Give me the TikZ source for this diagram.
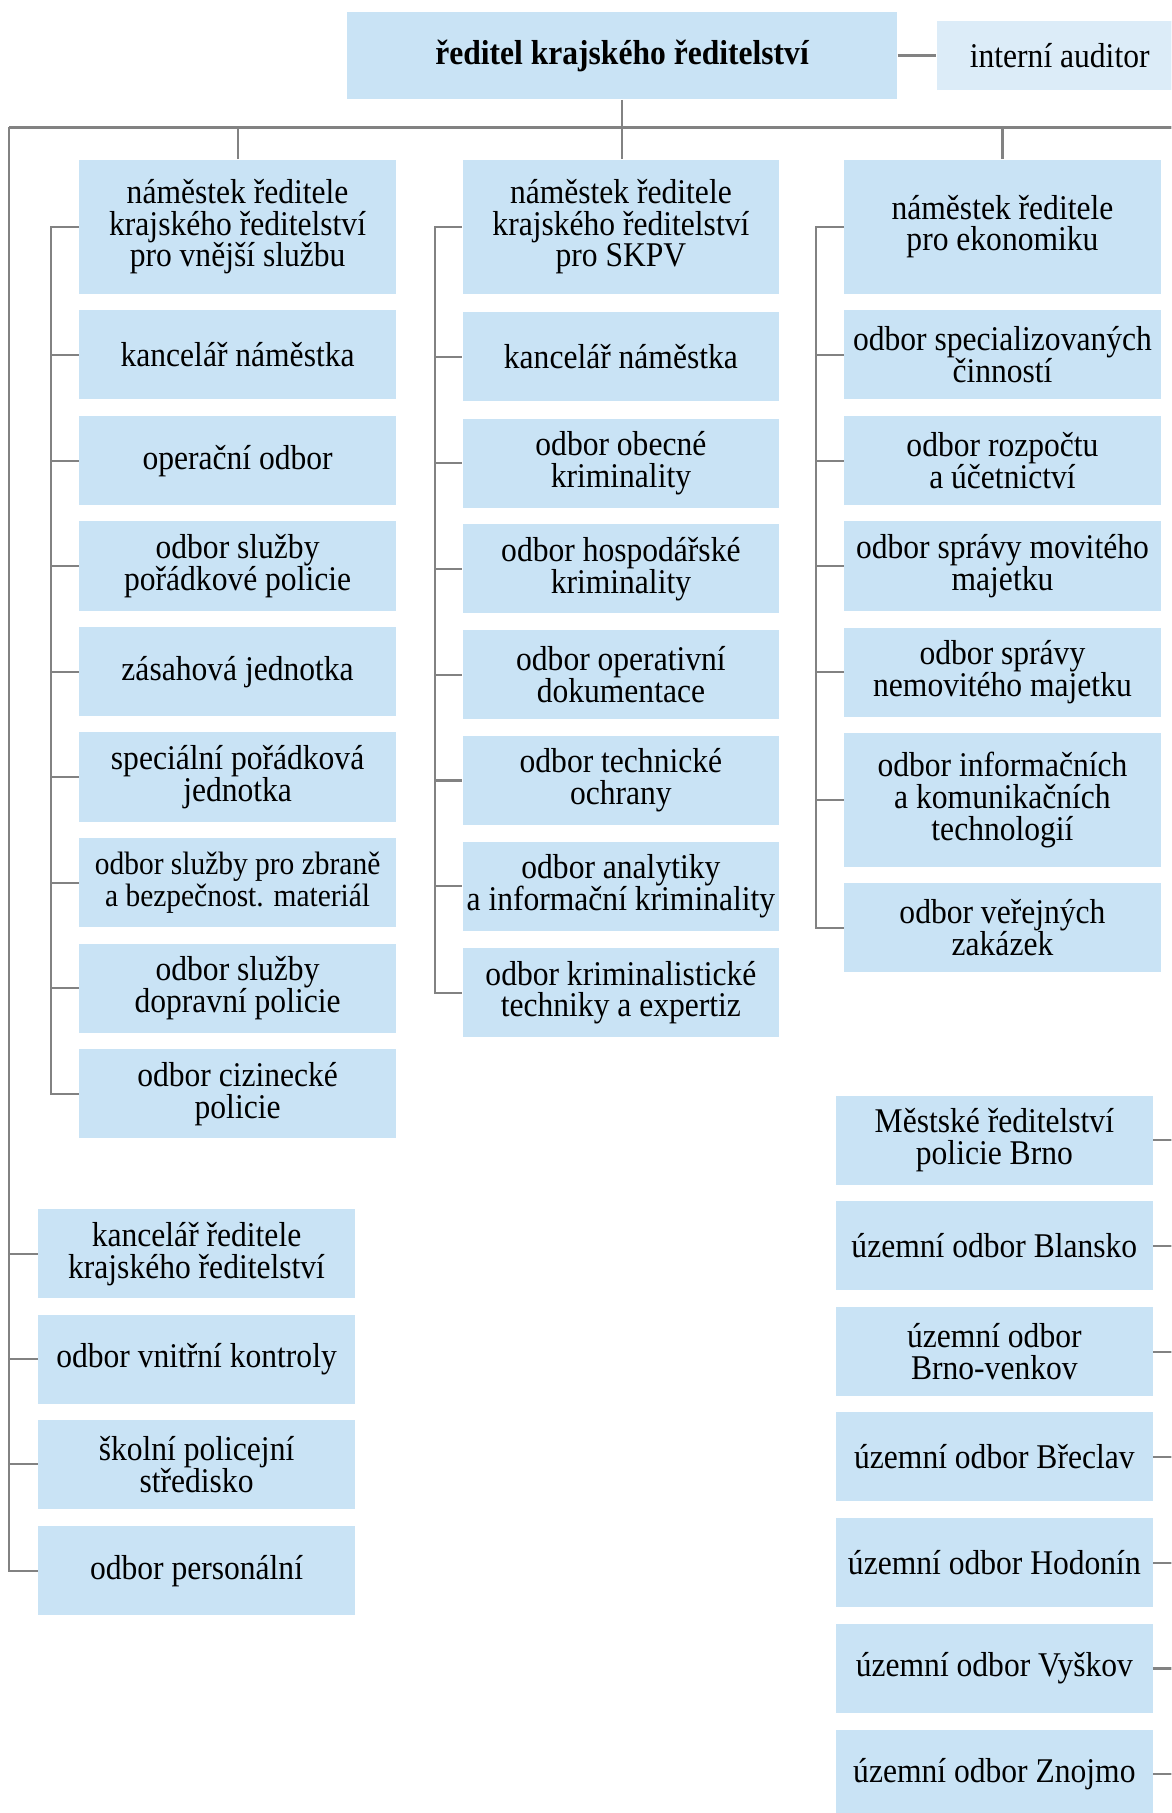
\documentclass[tikz,border=0pt]{standalone}
\usepackage{fontspec}
\setmainfont{Liberation Serif}[FakeStretch=0.91]
\usepackage{tikz}
\usepackage{xcolor}
\definecolor{boxblue}{RGB}{201,227,245}
\definecolor{boxpale}{RGB}{220,236,248}
\definecolor{linegray}{RGB}{130,130,130}

\begin{document}
\begin{tikzpicture}[x=0.5pt, y=-0.5pt,
  every node/.style={font=\fontsize{15}{13.8}\selectfont},
  unit/.style={fill=boxblue, inner sep=0pt, align=center, minimum width=137pt, minimum height=38.5pt},
  tall/.style={minimum height=58pt},
  link/.style={draw=linegray, line width=0.9pt},
  bus/.style={draw=linegray, line width=1.4pt}]
\useasboundingbox (0,0) rectangle (1013,1568);
\clip (0,0) rectangle (1013,1568);
% Top
\node[unit, minimum width=238pt, minimum height=38pt] (boss) at (538,48) {\bfseries ředitel krajského ředitelství};
\node[unit, fill=boxpale, minimum width=106.5pt, minimum height=30pt] (audit) at (916.5,48) {interní auditor};
\draw[bus] (boss) -- (audit);
\coordinate (busL) at (8,110);
\coordinate (busR) at (1030,110);
\draw[bus] (busL) -- (busR);
\draw[link] (boss) -- (boss |- busL);

% Column 1
\node[unit, tall] (c11) at (205.5,196) {náměstek ředitele\\krajského ředitelství\\pro vnější službu};
\node[unit] (c12) at (205.5,307) {kancelář náměstka};
\node[unit] (c13) at (205.5,398.5) {operační odbor};
\node[unit] (c14) at (205.5,489.5) {odbor služby\\pořádkové policie};
\node[unit] (c15) at (205.5,581) {zásahová jednotka};
\node[unit] (c16) at (205.5,672) {speciální pořádková\\jednotka};
\node[unit, font=\fontsize{14}{13.8}\selectfont] (c17) at (205.5,763.5) {odbor služby pro zbraně\\a bezpečnost. materiál};
\node[unit] (c18) at (205.5,854.5) {odbor služby\\dopravní policie};
\node[unit] (c19) at (205.5,946) {odbor cizinecké\\policie};
\coordinate (sp1) at (44,196);
\draw[link] (c11) -- (c11 |- busL);
\draw[link] (c11.west) -- (sp1) |- (c19.west);
\draw[link] (sp1 |- c12) -- (c12.west) (sp1 |- c13) -- (c13.west)
  (sp1 |- c14) -- (c14.west) (sp1 |- c15) -- (c15.west)
  (sp1 |- c16) -- (c16.west) (sp1 |- c17) -- (c17.west)
  (sp1 |- c18) -- (c18.west);

% Column 2
\node[unit, tall] (c21) at (537,196) {náměstek ředitele\\krajského ředitelství\\pro SKPV};
\node[unit] (c22) at (537,308.5) {kancelář náměstka};
\node[unit] (c23) at (537,400.5) {odbor obecné\\kriminality};
\node[unit] (c24) at (537,492) {odbor hospodářské\\kriminality};
\node[unit] (c25) at (537,583.5) {odbor operativní\\dokumentace};
\node[unit] (c26) at (537,675) {odbor technické\\ochrany};
\node[unit] (c27) at (537,766.5) {odbor analytiky\\a informační kriminality};
\node[unit] (c28) at (537,858.5) {odbor kriminalistické\\techniky a expertiz};
\coordinate (sp2) at (376,196);
\draw[link] (c21.north -| boss) -- (busL -| boss);
\draw[link] (c21.west) -- (sp2) |- (c28.west);
\draw[link] (sp2 |- c22) -- (c22.west) (sp2 |- c23) -- (c23.west)
  (sp2 |- c24) -- (c24.west) (sp2 |- c25) -- (c25.west)
  (sp2 |- c26) -- (c26.west) (sp2 |- c27) -- (c27.west);

% Column 3
\node[unit, tall] (c31) at (867,196) {náměstek ředitele\\pro ekonomiku};
\node[unit] (c32) at (867,307) {odbor specializovaných\\činností};
\node[unit] (c33) at (867,398.5) {odbor rozpočtu\\a účetnictví};
\node[unit] (c34) at (867,489.5) {odbor správy movitého\\majetku};
\node[unit] (c35) at (867,581.5) {odbor správy\\nemovitého majetku};
\node[unit, tall] (c36) at (867,692) {odbor informačních\\a komunikačních\\technologií};
\node[unit] (c37) at (867,802.5) {odbor veřejných\\zakázek};
\coordinate (sp3) at (706,196);
\draw[link] (c31) -- (c31 |- busL);
\draw[link] (c31.west) -- (sp3) |- (c37.west);
\draw[link] (sp3 |- c32) -- (c32.west) (sp3 |- c33) -- (c33.west)
  (sp3 |- c34) -- (c34.west) (sp3 |- c35) -- (c35.west)
  (sp3 |- c36) -- (c36.west);

% Staff under the director
\node[unit] (s1) at (170,1084.5) {kancelář ředitele\\krajského ředitelství};
\node[unit] (s2) at (170,1175.5) {odbor vnitřní kontroly};
\node[unit] (s3) at (170,1266.5) {školní policejní\\středisko};
\node[unit] (s4) at (170,1358.5) {odbor personální};
\draw[link] (busL) |- (s4.west);
\draw[link] (busL |- s1) -- (s1.west) (busL |- s2) -- (s2.west)
  (busL |- s3) -- (s3.west);

% Territorial units
\node[unit] (t1) at (860,986) {Městské ředitelství\\policie Brno};
\node[unit] (t2) at (860,1077.5) {územní odbor Blansko};
\node[unit] (t3) at (860,1169) {územní odbor\\Brno-venkov};
\node[unit] (t4) at (860,1260) {územní odbor Břeclav};
\node[unit] (t5) at (860,1351.5) {územní odbor Hodonín};
\node[unit] (t6) at (860,1443) {územní odbor Vyškov};
\node[unit] (t7) at (860,1534.5) {územní odbor Znojmo};
\draw[link] (t1.east) -- (t1 -| busR) (t2.east) -- (t2 -| busR)
  (t3.east) -- (t3 -| busR) (t4.east) -- (t4 -| busR)
  (t5.east) -- (t5 -| busR) (t6.east) -- (t6 -| busR)
  (t7.east) -- (t7 -| busR);
\end{tikzpicture}
\end{document}
